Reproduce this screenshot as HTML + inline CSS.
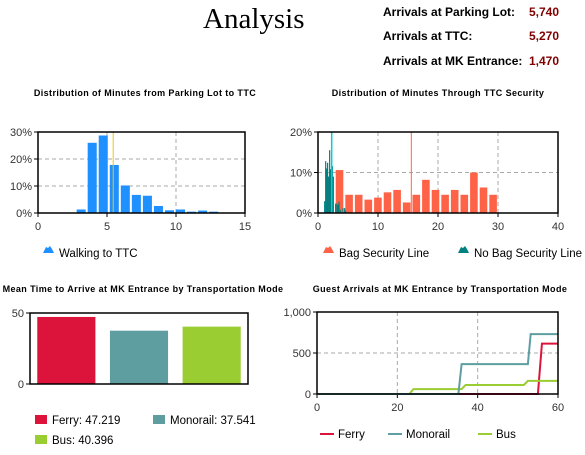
<!DOCTYPE html>
<html><head><meta charset="utf-8">
<style>
html,body{margin:0;padding:0;background:#fff;width:585px;height:455px;overflow:hidden}
svg{display:block;font-family:"Liberation Sans",sans-serif}
.t{font-size:9px;font-weight:bold;letter-spacing:0.4px;fill:#000}
.tk{font-size:11px;fill:#333}
.lg{font-size:11.5px;fill:#000}
.st{font-size:12px;font-weight:bold;fill:#000}
.sv{font-size:12px;font-weight:bold;fill:#800000}
</style></head>
<body>
<svg id="root" width="585" height="455" viewBox="0 0 585 455">
<text x="203" y="28" font-family="Liberation Serif,serif" font-size="29" fill="#000">Analysis</text>
<g>
<text class="st" x="383" y="16">Arrivals at Parking Lot:</text>
<text class="sv" x="559" y="16" text-anchor="end">5,740</text>
<text class="st" x="383" y="40">Arrivals at TTC:</text>
<text class="sv" x="559" y="40" text-anchor="end">5,270</text>
<text class="st" x="383" y="65">Arrivals at MK Entrance:</text>
<text class="sv" x="559" y="65" text-anchor="end">1,470</text>
</g>
<g id="c1"></g>
<g id="c2"></g>
<g id="c3"></g>
<g id="c4"></g>
</svg>
<script>
// Chart 1 data
const walkBinStart = [2.8,3.6,4.4,5.2,6.0,6.8,7.6,8.4,9.2,10.0,10.8,11.6,12.4];
const walkValues = [1.3,26,28.7,17.8,10.2,6.7,6.4,2.6,1,1.3,0.5,0.9,0.5];
const walkMean = 5.45;
const walkXTicks = [0,5,10,15];
const walkYTicks = [0,10,20,30];
// Chart 2 data
const bagBinStart = [1.35,2.95,4.55,6.15,7.75,9.35,10.95,12.55,14.15,15.75,17.35,18.95,20.55,22.15,23.75,25.35,26.95,28.55];
const bagValues = [8.8,10.6,4.5,4.5,3.3,3.8,5.1,5.7,2.6,4.5,8.2,5.7,4.5,5.7,4.5,10,6.3,4.5];
const noBagX = [1.11,1.28,1.44,1.6,1.78,1.94,2.1,2.39,2.55,2.94,3.17,3.33,3.5,3.72,4.17,4.44,4.6];
const noBagValues = [2.9,12.8,11,12.4,9,15.5,10.8,11.6,9,2.3,2.3,2,2.8,0.8,1.2,1.2,0.6];
const bagMean = 15.55;
const noBagMean = 2.28;
const secXTicks = [0,10,20,30,40];
const secYTicks = [0,10,20];
// Chart 3 data
const modes = ["Ferry","Monorail","Bus"];
const meanTimes = [47.219,37.541,40.396];
const meanYTicks = [0,50];
// Chart 4 data
const ferryT = [0,55,56,60];
const ferryV = [0,0,615,615];
const monoT = [0,35.2,36,52.5,53.2,60];
const monoV = [0,0,365,365,730,730];
const busT = [0,23,24,36,37,51.5,52.5,60];
const busV = [0,0,60,60,110,110,160,160];
const arrXTicks = [0,20,40,60];
const arrYTicks = [0,500,1000];

const NS="http://www.w3.org/2000/svg";
function mk(p,tag,at){const e=document.createElementNS(NS,tag);for(const k in at)e.setAttribute(k,at[k]);p.appendChild(e);return e;}
function txt(p,x,y,s,cls,anchor){const e=mk(p,'text',{x:x,y:y,class:cls,'text-anchor':anchor||'start'});e.textContent=s;return e;}
function frame(g,x0,x1,y0,y1,xt,yt,sx,sy,yfmt,xgrid){
  xt.forEach(v=>{const x=sx(v);
    if(xgrid&&v!==xt[0]&&v!==xt[xt.length-1]){const l=mk(g,'line',{x1:x,x2:x,y1:y0,y2:y1,stroke:'#aaa','stroke-dasharray':'4,3'});
      
      }
    mk(g,'line',{x1:x,x2:x,y1:y1,y2:y1+4,stroke:'#000'});
    const t=txt(g,x,y1+17,String(v),'tk','middle');
    
    });
  yt.forEach(v=>{const y=sy(v);
    if(v!==yt[0]&&v!==yt[yt.length-1]){const l=mk(g,'line',{x1:x0,x2:x1,y1:y,y2:y,stroke:'#aaa','stroke-dasharray':'4,3'});
      
      }
    mk(g,'line',{x1:x0-4,x2:x0,y1:y,y2:y,stroke:'#000'});
    const t=txt(g,x0-6,y+4,yfmt(v),'tk','end');
    
    });
}
function border(g,x0,x1,y0,y1){const r=mk(g,'rect',{x:x0,y:y0,width:x1-x0,height:y1-y0,fill:'none',stroke:'#000','stroke-width':1.5});
  
  }
function tri(g,x,y,c){mk(g,'path',{d:`M${x} ${y+7}L${x+3} ${y+1}L${x+5} ${y+2}L${x+7} ${y}L${x+9} ${y+3}L${x+11} ${y+7}Z`,fill:c});}

// Chart 1
(function(){const g=document.getElementById('c1');
const X0=38,X1=245,Y0=132,Y1=213;
const sx=v=>X0+(v-0)/15*(X1-X0), sy=v=>Y1-v/30*(Y1-Y0);
const t=txt(g,145,96,'Distribution of Minutes from Parking Lot to TTC','t','middle');


frame(g,X0,X1,Y0,Y1,walkXTicks,walkYTicks,sx,sy,v=>v+'%',true);
walkBinStart.forEach((b,i)=>{const r=mk(g,'rect',{x:sx(b),y:sy(walkValues[i]),width:sx(b+0.8)-sx(b)-2,height:Y1-sy(walkValues[i]),fill:'#1e90ff'});
  
  });
const m=mk(g,'line',{x1:sx(walkMean),x2:sx(walkMean),y1:Y0,y2:Y1,stroke:'#f0c800'});


border(g,X0,X1,Y0,Y1);
const lg=mk(g,'g',{});


tri(lg,43,246,'#1e90ff');txt(lg,59,257,'Walking to TTC','lg');
})();

// Chart 2
(function(){const g=document.getElementById('c2');
const X0=318,X1=558,Y0=132,Y1=213;
const sx=v=>X0+v/40*(X1-X0), sy=v=>Y1-v/20*(Y1-Y0);
const t=txt(g,438,96,'Distribution of Minutes Through TTC Security','t','middle');


frame(g,X0,X1,Y0,Y1,secXTicks,secYTicks,sx,sy,v=>v+'%',true);
bagBinStart.forEach((b,i)=>{const r=mk(g,'rect',{x:sx(b),y:sy(bagValues[i]),width:sx(b+1.6)-sx(b)-2,height:Y1-sy(bagValues[i]),fill:'#ff6347'});
  
  });
noBagX.forEach((b,i)=>{const r=mk(g,'rect',{x:sx(b)-0.6,y:sy(noBagValues[i]),width:1.2,height:Y1-sy(noBagValues[i]),fill:'#008080'});
  
  });
const m1=mk(g,'line',{x1:sx(bagMean),x2:sx(bagMean),y1:Y0,y2:Y1,stroke:'#ff6347'});


const m2=mk(g,'line',{x1:sx(noBagMean),x2:sx(noBagMean),y1:Y0,y2:Y1,stroke:'#00ced1','stroke-width':1.5});


border(g,X0,X1,Y0,Y1);
const l1=mk(g,'g',{});


tri(l1,323,246,'#ff6347');txt(l1,339,257,'Bag Security Line','lg');
const l2=mk(g,'g',{});


tri(l2,458,246,'#008080');txt(l2,474,257,'No Bag Security Line','lg');
})();

// Chart 3
(function(){const g=document.getElementById('c3');
const X0=30,X1=248,Y0=313,Y1=384;
const sy=v=>Y1-v/50*(Y1-Y0), band=(X1-X0)/modes.length;
const t=txt(g,143,292,'Mean Time to Arrive at MK Entrance by Transportation Mode','t','middle');


frame(g,X0,X1,Y0,Y1,[],meanYTicks,null,sy,v=>String(v),false);
const cols=['#dc143c','#5f9ea0','#9acd32'];
modes.forEach((m,i)=>{const r=mk(g,'rect',{x:X0+band*i+band*0.1,y:sy(meanTimes[i]),width:band*0.8,height:Y1-sy(meanTimes[i]),fill:cols[i]});
  
  });
border(g,X0,X1,Y0,Y1);
const pos=[[35,420],[153,420],[35,440]];
modes.forEach((m,i)=>{const lg=mk(g,'g',{});
  
  
  mk(lg,'rect',{x:pos[i][0],y:pos[i][1]-5,width:12,height:9,fill:cols[i]});
  txt(lg,pos[i][0]+17,pos[i][1]+4,m+': '+meanTimes[i],'lg');});
})();

// Chart 4
(function(){const g=document.getElementById('c4');
const X0=317,X1=558,Y0=312,Y1=394;
const sx=v=>X0+v/60*(X1-X0), sy=v=>Y1-v/1000*(Y1-Y0);
const t=txt(g,440,292,'Guest Arrivals at MK Entrance by Transportation Mode','t','middle');


frame(g,X0,X1,Y0,Y1,arrXTicks,arrYTicks,sx,sy,v=>v.toLocaleString('en-US'),true);
const series=[['ferry',ferryT,ferryV,'#dc143c'],['bus',busT,busV,'#9acd32'],['monorail',monoT,monoV,'#5f9ea0']];
series.forEach(s=>{const pts=s[1].map((t,i)=>sx(t)+','+sy(s[2][i])).join(' ');
  const p=mk(g,'polyline',{points:pts,fill:'none',stroke:s[3],'stroke-width':2});
  
  });
border(g,X0,X1,Y0,Y1);
[['Ferry','#dc143c',320],['Monorail','#5f9ea0',388],['Bus','#9acd32',478]].forEach(l=>{
  const lg=mk(g,'g',{});
  
  
  mk(lg,'line',{x1:l[2],x2:l[2]+14,y1:434,y2:434,stroke:l[1],'stroke-width':2});
  txt(lg,l[2]+18,438,l[0],'lg');});
})();
</script>
</body></html>
